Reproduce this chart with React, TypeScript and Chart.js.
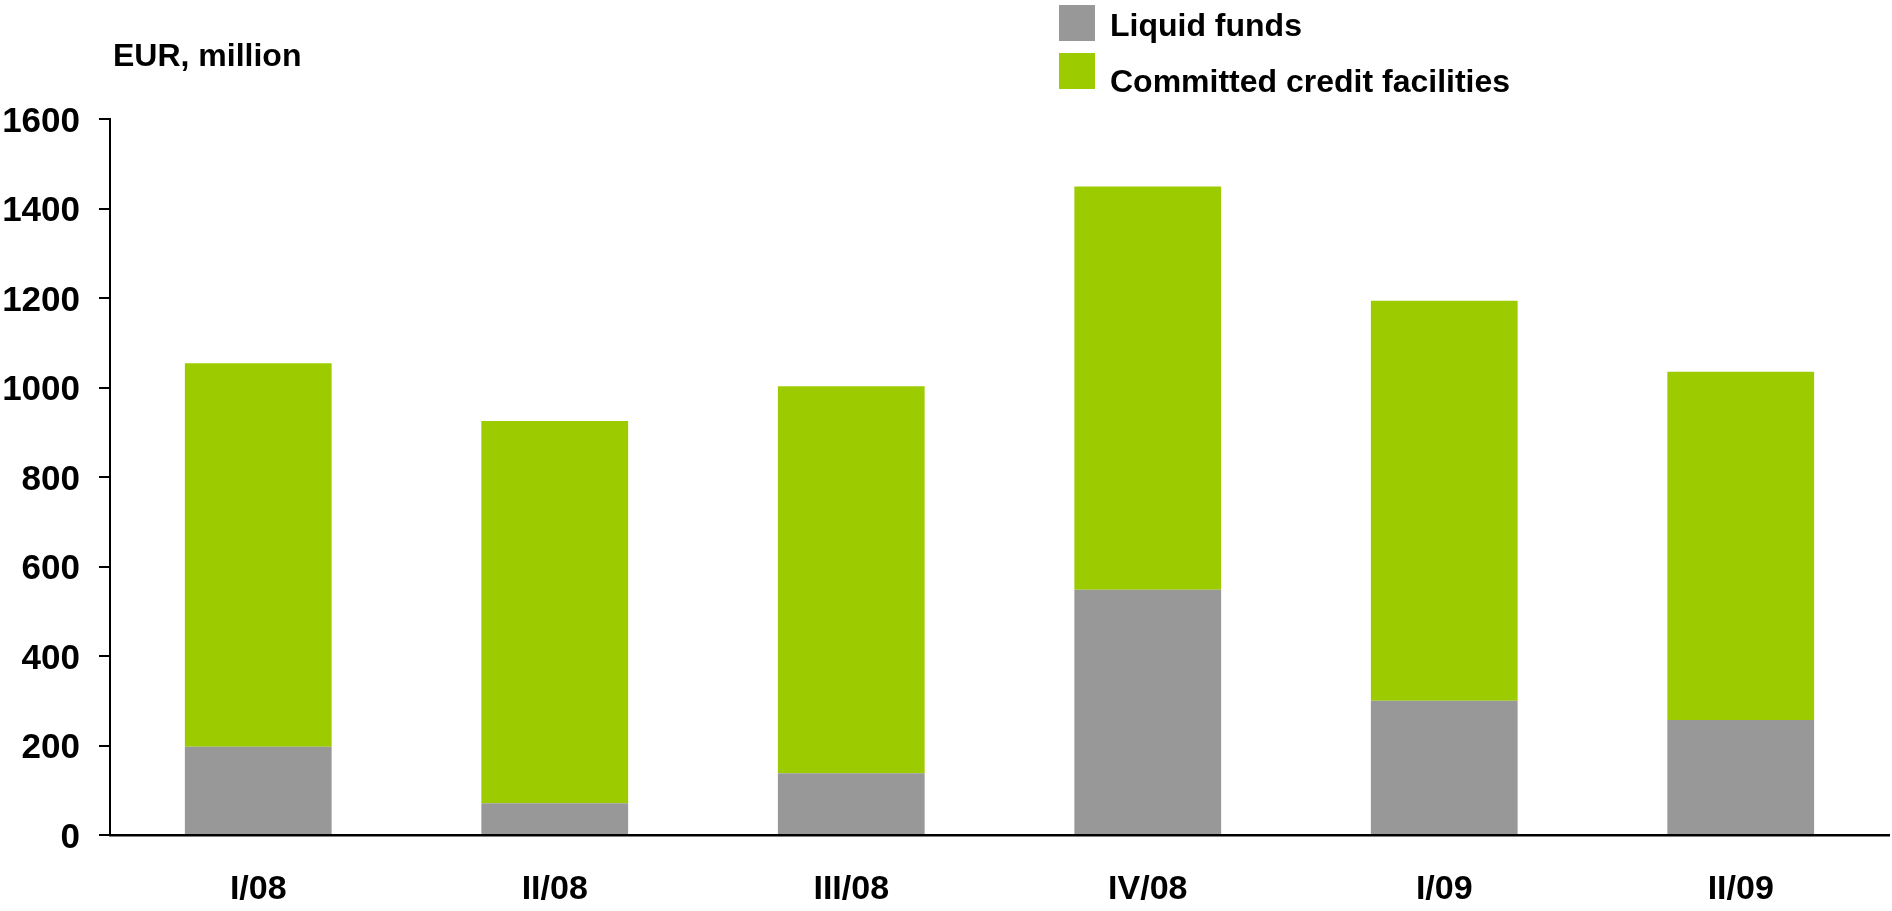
import React, { useEffect, useRef } from "react";
import { Chart, registerables } from "chart.js";

Chart.register(...registerables);

const categories = ["I/08", "II/08", "III/08", "IV/08", "I/09", "II/09"];
const liquidFunds = [197, 71, 138, 548, 300, 257];
const creditFacilities = [857, 854, 865, 901, 894, 778];
const seriesLabels = ["Liquid funds", "Committed credit facilities"];
const seriesColors = ["#989898", "#9ccc00"];
const unitLabel = "EUR, million";

const FONT = "'Liberation Sans', Arial, Helvetica, sans-serif";

const overlayPlugin = {
  id: "overlay",
  afterDraw(chart: any) {
    const ctx = chart.ctx;
    ctx.save();
    ctx.fillStyle = "#000";
    ctx.textAlign = "left";
    ctx.textBaseline = "alphabetic";
    ctx.font = `bold 32px ${FONT}`;
    ctx.fillText(unitLabel, 113, 66);

    // legend
    const sq = 36;
    const rows = [
      { y: 5, base: 36 },
      { y: 53, base: 92 },
    ];
    ctx.font = `bold 32px ${FONT}`;
    seriesLabels.forEach((lab, i) => {
      ctx.fillStyle = seriesColors[i];
      ctx.fillRect(1059, rows[i].y, sq, sq);
      ctx.fillStyle = "#000";
      ctx.fillText(lab, 1110, rows[i].base);
    });
    ctx.restore();
  },
};

export default function App() {
  const ref = useRef<HTMLCanvasElement>(null);

  useEffect(() => {
    if (!ref.current) return;
    const chart = new Chart(ref.current, {
      type: "bar",
      data: {
        labels: categories,
        datasets: [
          {
            label: seriesLabels[0],
            data: liquidFunds,
            backgroundColor: seriesColors[0],
            barPercentage: 1,
            categoryPercentage: 0.495,
          },
          {
            label: seriesLabels[1],
            data: creditFacilities,
            backgroundColor: seriesColors[1],
            barPercentage: 1,
            categoryPercentage: 0.495,
          },
        ],
      },
      options: {
        animation: false,
        responsive: true,
        maintainAspectRatio: false,
        layout: { padding: { top: 119, right: 3, bottom: 0, left: 0 } },
        plugins: {
          legend: { display: false },
          tooltip: { enabled: false },
        },
        scales: {
          x: {
            stacked: true,
            grid: { display: false, drawTicks: false },
            border: { display: true, color: "#000", width: 2.5 },
            ticks: {
              color: "#000",
              font: { family: FONT, size: 34, weight: "bold" },
              padding: 34,
              maxRotation: 0,
            },
            afterFit(axis: any) {
              axis.height = 76;
            },
          },
          y: {
            stacked: true,
            min: 0,
            max: 1600,
            grid: {
              display: true,
              drawOnChartArea: false,
              drawTicks: true,
              tickLength: 11,
              color: "#000",
              lineWidth: 2,
            },
            border: { display: true, color: "#000", width: 2 },
            ticks: {
              stepSize: 200,
              color: "#000",
              font: { family: FONT, size: 35, weight: "bold" },
              padding: 19,
              labelOffset: 3,
              callback: (v: any) => String(v),
            },
            afterFit(axis: any) {
              axis.width = 110;
            },
          },
        },
      },
      plugins: [overlayPlugin],
    });
    return () => chart.destroy();
  }, []);

  return (
    <div style={{ position: "absolute", left: 0, top: 0, width: 1892, height: 911, background: "#fff" }}>
      <canvas ref={ref} />
    </div>
  );
}
